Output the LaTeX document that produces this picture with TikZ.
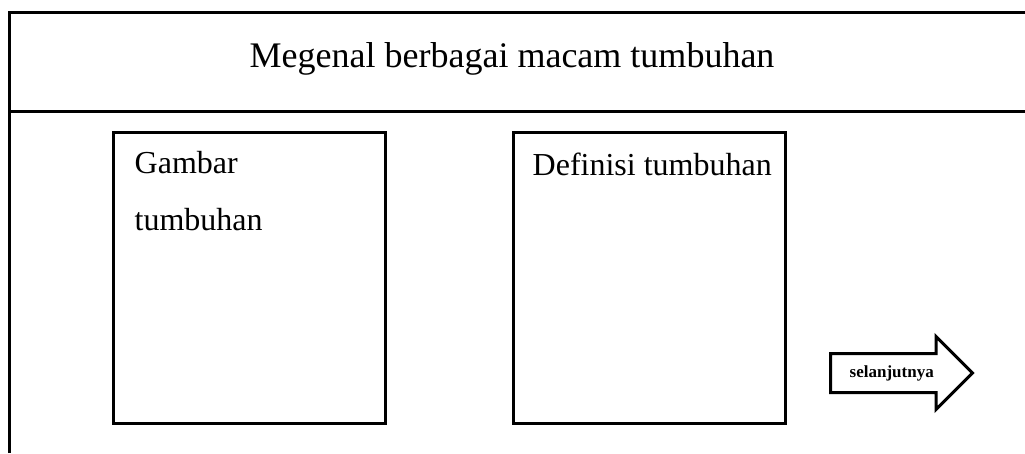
\documentclass[tikz,border=0pt]{standalone}
\usepackage{fontspec}
\setmainfont{Liberation Serif}
\usetikzlibrary{positioning,shapes.arrows}

\begin{document}
\begin{tikzpicture}[
  x=1pt, y=-1pt,
  frame/.style={draw, line width=3pt},
  panel/.style={draw, line width=3pt, minimum width=272pt, minimum height=291pt, inner sep=0pt},
  caption/.style={font=\fontsize{32}{38}\selectfont, inner sep=0pt, align=left},
  nextbtn/.style={single arrow, draw, line width=3pt, single arrow head extend=17pt,
    minimum height=142pt, inner xsep=2pt, inner ysep=10pt, text height=12pt, text depth=4pt,
    font=\fontsize{17}{20}\selectfont\bfseries}
]
\useasboundingbox (0,0) rectangle (1025,453);
% page frame
\draw[frame] (9,453) -- (9,12) -- (1025,12);
\draw[frame] (9,111) -- (1025,111);
\node[font=\fontsize{36}{42}\selectfont, inner sep=0pt, anchor=base] (title) at (512,67) {Megenal berbagai macam tumbuhan};
% panels
\node[panel] (gambar) at (249,278) {};
\node[panel] (definisi) at (649,278) {};
\node[caption, below right=99pt and 23pt of gambar.north west, anchor=base west] (gambartxt)
  {Gambar\\[19pt]tumbuhan};
\node[caption, below right=44pt and 21pt of definisi.north west, anchor=base west] (definisitxt)
  {Definisi tumbuhan};
% next button
\node[nextbtn, anchor=tail] (next) at (829,373) {selanjutnya};
\end{tikzpicture}
\end{document}
